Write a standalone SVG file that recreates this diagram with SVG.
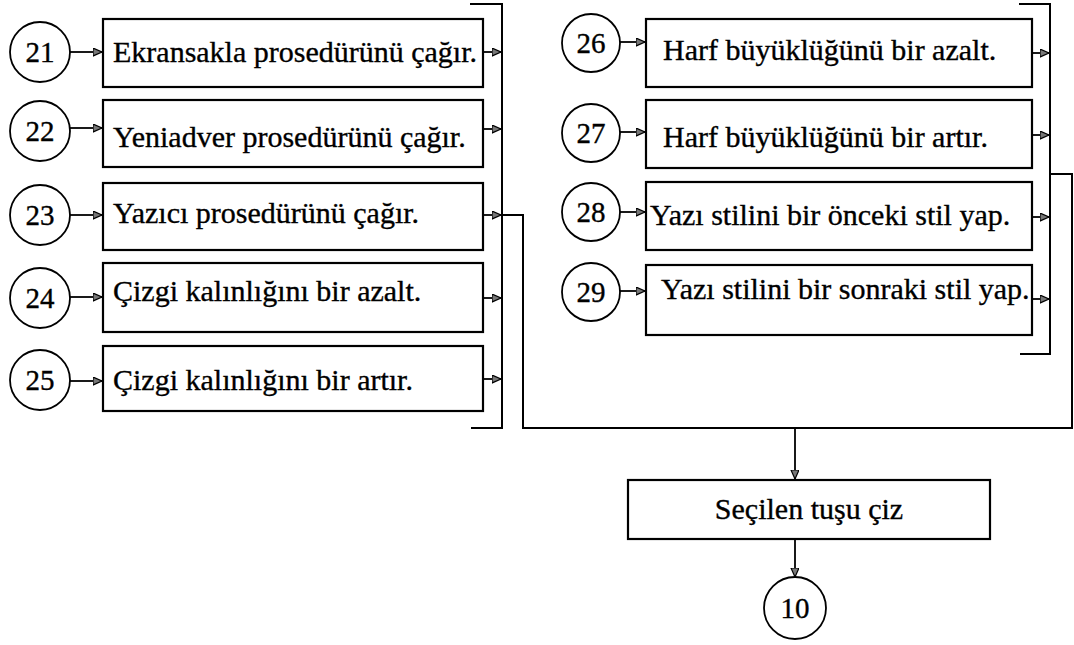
<svg xmlns="http://www.w3.org/2000/svg" width="1074" height="645" viewBox="0 0 1074 645">
  <defs>
    <marker id="arr" markerUnits="userSpaceOnUse" markerWidth="12" markerHeight="10" refX="9" refY="4" orient="auto">
      <path d="M0,0 L9,4 L0,8 z" fill="#777" stroke="#000" stroke-width="1.2"/>
    </marker>
    <style>
      .box { fill: #fff; stroke: #000; stroke-width: 2.2; }
      .circ { fill: #fff; stroke: #000; stroke-width: 1.8; }
      .lbl { font-family: "Liberation Serif", "Times New Roman", serif; font-size: 30px; fill: #000; stroke: #000; stroke-width: 0.35; }
      .num { font-family: "Liberation Serif", "Times New Roman", serif; font-size: 29px; fill: #000; stroke: #000; stroke-width: 0.35; text-anchor: middle; }
      .wire { fill: none; stroke: #000; stroke-width: 2; }
      .arw { fill: none; stroke: #000; stroke-width: 1.8; marker-end: url(#arr); }
    </style>
  </defs>
  <rect width="1074" height="645" fill="#fff"/>

  <!-- connectors -->
  <g id="connectors">
    <!-- left column: circles into boxes -->
    <line class="arw" x1="70" y1="52" x2="102" y2="52"/>
    <line class="arw" x1="70" y1="128" x2="102" y2="128"/>
    <line class="arw" x1="70" y1="215" x2="102" y2="215"/>
    <line class="arw" x1="70" y1="297" x2="102" y2="297"/>
    <line class="arw" x1="70" y1="381" x2="102" y2="381"/>
    <!-- left column: boxes into bus -->
    <line class="arw" x1="483" y1="52" x2="501" y2="52"/>
    <line class="arw" x1="483" y1="129" x2="501" y2="129"/>
    <line class="arw" x1="483" y1="215" x2="501" y2="215"/>
    <line class="arw" x1="483" y1="298" x2="501" y2="298"/>
    <line class="arw" x1="483" y1="379" x2="501" y2="379"/>
    <path class="wire" d="M470,4 H502 V428 H471"/>
    <!-- right column: circles into boxes -->
    <line class="arw" x1="620" y1="42" x2="645" y2="42"/>
    <line class="arw" x1="620" y1="132" x2="645" y2="132"/>
    <line class="arw" x1="620" y1="212" x2="645" y2="212"/>
    <line class="arw" x1="620" y1="291" x2="645" y2="291"/>
    <!-- right column: boxes into bus -->
    <line class="arw" x1="1032" y1="53" x2="1049" y2="53"/>
    <line class="arw" x1="1032" y1="135" x2="1049" y2="135"/>
    <line class="arw" x1="1032" y1="217" x2="1049" y2="217"/>
    <line class="arw" x1="1032" y1="299" x2="1049" y2="299"/>
    <path class="wire" d="M1019,4 H1050 V354 H1020"/>
    <!-- collector loop -->
    <path class="wire" d="M502,215 H523 V428 H1072 V174 H1050"/>
    <!-- down to the final step -->
    <line class="arw" x1="795" y1="428" x2="795" y2="479"/>
    <line class="arw" x1="795" y1="539" x2="795" y2="577"/>
  </g>

  <!-- left column -->
  <g id="n21"><circle class="circ" cx="40" cy="52" r="30"/><text class="num" x="40" y="62">21</text></g>
  <g id="b21"><rect class="box" x="103" y="19" width="380" height="68"/><text class="lbl" x="113" y="62">Ekransakla prosedürünü çağır.</text></g>

  <g id="n22"><circle class="circ" cx="40" cy="131" r="30"/><text class="num" x="40" y="141">22</text></g>
  <g id="b22"><rect class="box" x="103" y="100" width="380" height="67"/><text class="lbl" x="113" y="147">Yeniadver prosedürünü çağır.</text></g>

  <g id="n23"><circle class="circ" cx="40" cy="215" r="30"/><text class="num" x="40" y="225">23</text></g>
  <g id="b23"><rect class="box" x="103" y="183" width="380" height="67"/><text class="lbl" x="113" y="223">Yazıcı prosedürünü çağır.</text></g>

  <g id="n24"><circle class="circ" cx="40" cy="298" r="30"/><text class="num" x="40" y="308">24</text></g>
  <g id="b24"><rect class="box" x="103" y="263" width="380" height="69"/><text class="lbl" x="113" y="301">Çizgi kalınlığını bir azalt.</text></g>

  <g id="n25"><circle class="circ" cx="40" cy="380" r="30"/><text class="num" x="40" y="390">25</text></g>
  <g id="b25"><rect class="box" x="103" y="346" width="380" height="65"/><text class="lbl" x="113" y="390">Çizgi kalınlığını bir artır.</text></g>

  <!-- right column -->
  <g id="n26"><circle class="circ" cx="591" cy="43" r="29"/><text class="num" x="591" y="53">26</text></g>
  <g id="b26"><rect class="box" x="646" y="19" width="386" height="68"/><text class="lbl" x="663" y="60">Harf büyüklüğünü bir azalt.</text></g>

  <g id="n27"><circle class="circ" cx="591" cy="133" r="29"/><text class="num" x="591" y="143">27</text></g>
  <g id="b27"><rect class="box" x="646" y="100" width="386" height="68"/><text class="lbl" x="663" y="147">Harf büyüklüğünü bir artır.</text></g>

  <g id="n28"><circle class="circ" cx="591" cy="212" r="29"/><text class="num" x="591" y="222">28</text></g>
  <g id="b28"><rect class="box" x="646" y="182" width="386" height="68"/><text class="lbl" x="650" y="225">Yazı stilini bir önceki stil yap.</text></g>

  <g id="n29"><circle class="circ" cx="591" cy="292" r="29"/><text class="num" x="591" y="302">29</text></g>
  <g id="b29"><rect class="box" x="646" y="265" width="386" height="70"/><text class="lbl" x="661" y="299">Yazı stilini bir sonraki stil yap.</text></g>

  <!-- final step -->
  <g id="draw"><rect class="box" x="628" y="480" width="362" height="59"/><text class="lbl" x="809" y="519" text-anchor="middle">Seçilen tuşu çiz</text></g>
  <g id="n10"><circle class="circ" cx="795" cy="608" r="31"/><text class="num" x="795" y="618">10</text></g>
</svg>
